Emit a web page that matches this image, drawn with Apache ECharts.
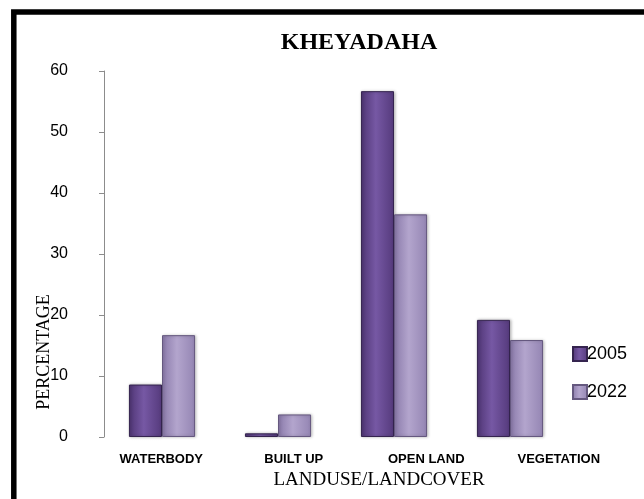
<!DOCTYPE html>
<html>
<head>
<meta charset="utf-8">
<script src="https://cdn.jsdelivr.net/npm/echarts@6/dist/echarts.min.js"></script>
<style>
  html, body { margin: 0; padding: 0; background: #fff; }
  #chart { width: 644px; height: 499px; }
</style>
</head>
<body>
<div id="chart"></div>
<script>
// land use categories and percentages
const categories = ['WATERBODY', 'BUILT UP', 'OPEN LAND', 'VEGETATION'];
const years = ['2005', '2022'];
const values2005 = [8.6, 0.6, 56.7, 19.2];
const values2022 = [16.7, 3.7, 36.5, 15.9];

// bar fill, left edge -> middle -> right edge
function barFill(edge, mid, edge2) {
  return new echarts.graphic.LinearGradient(0, 0, 1, 0, [
    { offset: 0, color: edge },
    { offset: 0.45, color: mid },
    { offset: 1, color: edge2 }
  ]);
}

const chart = echarts.init(document.getElementById('chart'));

const option = {
  animation: false,
  backgroundColor: '#fff',
  grid: [
    { left: 104, right: 76, top: 71, bottom: 62 },
    // only used to place the category labels (they sit wider than the bars)
    { left: 95, right: 19, top: 71, bottom: 62 }
  ],
  legend: {
    orient: 'vertical',
    left: 567,
    top: 340,
    itemWidth: 14,
    itemHeight: 14,
    itemGap: 20,
    icon: 'rect',
    textStyle: { fontFamily: 'Liberation Sans', fontSize: 18, color: '#000', padding: [0, 0, 0, -5] },
    data: years
  },
  xAxis: [
    {
      type: 'category',
      gridIndex: 0,
      data: categories,
      axisLine: { show: false },
      axisTick: { show: false },
      axisLabel: { show: false }
    },
    {
      type: 'category',
      gridIndex: 1,
      data: categories,
      axisLine: { show: false },
      axisTick: { show: false },
      axisLabel: {
        margin: 16,
        fontFamily: 'Liberation Sans',
        fontWeight: 'bold',
        fontSize: 13,
        color: '#000'
      }
    }
  ],
  yAxis: [
    {
      type: 'value',
      gridIndex: 0,
      min: 0,
      max: 60,
      interval: 10,
      splitLine: { show: false },
      axisLine: { show: true, lineStyle: { color: '#8c8c8c', width: 1 } },
      axisTick: { show: true, length: 5, lineStyle: { color: '#8c8c8c' } },
      axisLabel: {
        margin: 36,
        fontFamily: 'Liberation Sans',
        fontSize: 16,
        color: '#000'
      }
    },
    { type: 'value', gridIndex: 1, show: false, min: 0, max: 60 }
  ],
  series: [
    {
      name: years[0],
      type: 'bar',
      xAxisIndex: 0,
      yAxisIndex: 0,
      data: values2005,
      barGap: '0%',
      barCategoryGap: '43%',
      itemStyle: {
        color: barFill('#4f3574', '#7658a4', '#553a7c'),
        borderColor: '#35244f',
        borderWidth: 1,
        shadowColor: 'rgba(0,0,0,0.25)',
        shadowBlur: 3,
        shadowOffsetX: 1
      }
    },
    {
      name: years[1],
      type: 'bar',
      xAxisIndex: 0,
      yAxisIndex: 0,
      data: values2022,
      itemStyle: {
        color: barFill('#8a7aaa', '#b3a5cd', '#9485b3'),
        borderColor: '#65587f',
        borderWidth: 1,
        shadowColor: 'rgba(0,0,0,0.25)',
        shadowBlur: 3,
        shadowOffsetX: 1
      }
    }
  ],
  graphic: [
    {
      type: 'rect',
      shape: { x: 13.8, y: 12, width: 800, height: 700 },
      style: { fill: 'none', stroke: '#000', lineWidth: 5.5 },
      silent: true
    },
    {
      type: 'text',
      x: 359, y: 43,
      style: {
        text: 'KHEYADAHA',
        font: 'bold 24px "Liberation Serif"',
        fill: '#000',
        textAlign: 'center',
        textVerticalAlign: 'middle'
      }
    },
    {
      type: 'text',
      x: 44, y: 352,
      rotation: Math.PI / 2,
      style: {
        text: 'PERCENTAGE',
        font: '18px "Liberation Serif"',
        fill: '#000',
        textAlign: 'center',
        textVerticalAlign: 'middle'
      }
    },
    {
      type: 'text',
      x: 379, y: 480,
      style: {
        text: 'LANDUSE/LANDCOVER',
        font: '19px "Liberation Serif"',
        fill: '#000',
        textAlign: 'center',
        textVerticalAlign: 'middle'
      }
    }
  ]
};

chart.setOption(option);
</script>
</body>
</html>
